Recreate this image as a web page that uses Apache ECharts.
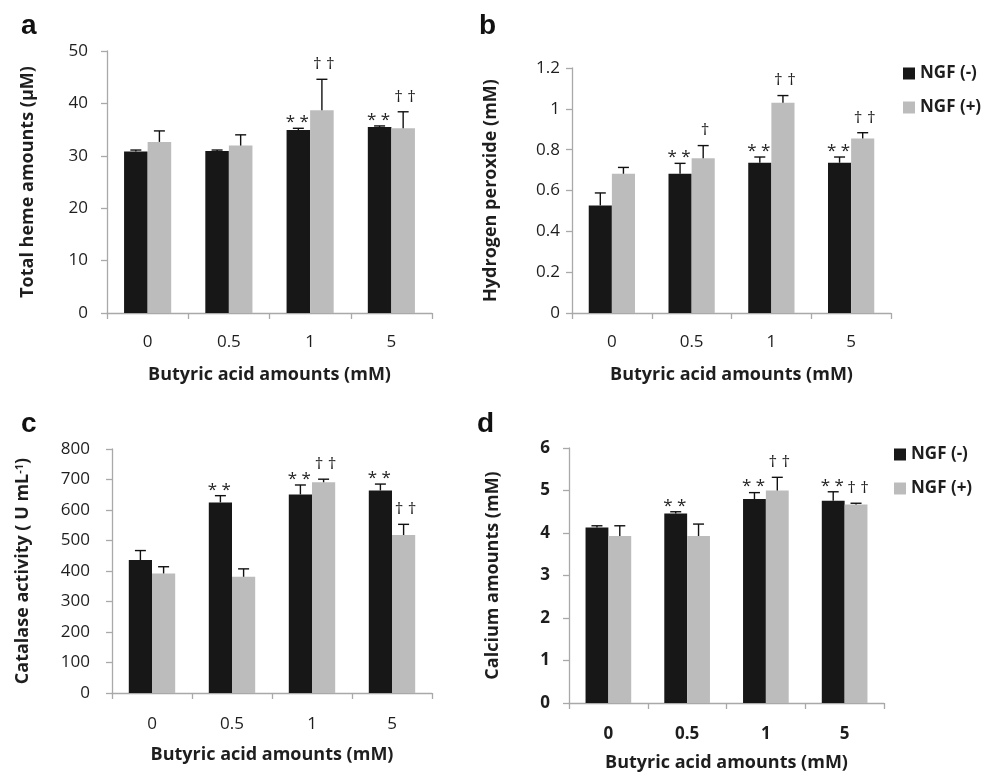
<!DOCTYPE html>
<html><head><meta charset="utf-8">
<script src="https://cdn.jsdelivr.net/npm/echarts@6/dist/echarts.min.js"></script>
<style>html,body{margin:0;padding:0;background:#fff}#c{width:987px;height:775px}</style>
</head><body><div id="c"></div>
<script>
const categories = ['0', '0.5', '1', '5'];
const seriesNames = ['NGF (-)', 'NGF (+)'];

// a: Total heme amounts (µM)
const hemeNeg = [30.8, 30.9, 34.9, 35.5];
const hemeNegErr = [0.3, 0.2, 0.35, 0.2];
const hemePos = [32.65, 31.95, 38.7, 35.25];
const hemePosErr = [2.1, 2.05, 5.9, 3.15];
const hemeNegSig = ['', '', '**', '**'];
const hemePosSig = ['', '', '††', '††'];

// b: Hydrogen peroxide (mM)
const h2o2Neg = [0.527, 0.682, 0.736, 0.736];
const h2o2NegErr = [0.061, 0.051, 0.028, 0.028];
const h2o2Pos = [0.682, 0.758, 1.03, 0.855];
const h2o2PosErr = [0.031, 0.062, 0.035, 0.028];
const h2o2NegSig = ['', '**', '**', '**'];
const h2o2PosSig = ['', '†', '††', '††'];

// c: Catalase activity (U mL-1)
const catNeg = [436, 625, 651, 664];
const catNegErr = [31, 22, 31, 21];
const catPos = [392, 381, 691, 518];
const catPosErr = [22, 26, 10, 35];
const catNegSig = ['', '**', '**', '**'];
const catPosSig = ['', '', '††', '††'];

// d: Calcium amounts (mM)
const caNeg = [4.13, 4.46, 4.80, 4.76];
const caNegErr = [0.04, 0.04, 0.15, 0.21];
const caPos = [3.93, 3.93, 5.0, 4.67];
const caPosErr = [0.24, 0.28, 0.31, 0.03];
const caNegSig = ['', '**', '**', '**'];
const caPosSig = ['', '', '††', '††'];

const BLACK = '#171717', GRAY = '#bcbcbc', AXIS = '#a9a9a9', TXT = '#1e1e1e';
const FONT = 'Open Sans';
const CAT_GAP = 0.42;

const panels = [
  {grid: {left: 107, top: 51, width: 325, height: 262}, yMax: 50, yInt: 10,
   yName: 'Total heme amounts (\u03bcM)', yGap: 70, yLabMargin: 19, xLabMargin: 21, xGap: 53, bold: false,
   neg: hemeNeg, negErr: hemeNegErr, pos: hemePos, posErr: hemePosErr, negSig: hemeNegSig, posSig: hemePosSig,
   letter: 'a', lx: 21, ly: 12},
  {grid: {left: 572, top: 68, width: 319, height: 245}, yMax: 1.2, yInt: 0.2,
   yName: 'Hydrogen peroxide (mM)', yGap: 72, yLabMargin: 12, xLabMargin: 21, xGap: 53, bold: false,
   neg: h2o2Neg, negErr: h2o2NegErr, pos: h2o2Pos, posErr: h2o2PosErr, negSig: h2o2NegSig, posSig: h2o2PosSig,
   letter: 'b', lx: 479, ly: 12},
  {grid: {left: 112, top: 449, width: 320, height: 244}, yMax: 800, yInt: 100,
   yName: '{t|Catalase activity ( U mL}{s|-1}{t|)}', yGap: 80, yLabMargin: 22, xLabMargin: 23, xGap: 53, bold: false,
   neg: catNeg, negErr: catNegErr, pos: catPos, posErr: catPosErr, negSig: catNegSig, posSig: catPosSig,
   letter: 'c', lx: 21, ly: 410},
  {grid: {left: 569, top: 448, width: 315, height: 255}, yMax: 6, yInt: 1,
   yName: 'Calcium amounts (mM)', yGap: 67, yLabMargin: 19, xLabMargin: 23, xGap: 51, bold: true,
   neg: caNeg, negErr: caNegErr, pos: caPos, posErr: caPosErr, negSig: caNegSig, posSig: caPosSig,
   letter: 'd', lx: 477, ly: 410}
];

const grid = [], xAxis = [], yAxis = [], series = [], graphic = [];

function errSeries(gi, vals, errs, sigs, side) {
  return {
    type: 'custom', xAxisIndex: gi, yAxisIndex: gi, z: 5, silent: true,
    data: categories.map((c, i) => [i, vals[i], vals[i] + errs[i]]),
    encode: {x: 0, y: [1, 2]},
    renderItem: function (params, api) {
      const base = api.coord([api.value(0), api.value(1)]);
      const top = api.coord([api.value(0), api.value(2)]);
      const band = api.size([1, 0])[0];
      const bw = band * (1 - CAT_GAP) / 2;
      const x = base[0] + side * bw / 2;
      const sig = sigs[params.dataIndex];
      const children = [
        {type: 'line', shape: {x1: x, y1: base[1], x2: x, y2: top[1]}, style: {stroke: '#111', lineWidth: 1.4}},
        {type: 'line', shape: {x1: x - 5.5, y1: top[1], x2: x + 5.5, y2: top[1]}, style: {stroke: '#111', lineWidth: 1.4}}
      ];
      if (sig) {
        const isStar = sig.charAt(0) === '*';
        children.push({type: 'text', style: {text: sig.split('').join(' '), x: x + (side > 0 ? 2 : -1),
          y: top[1] - (isStar ? 6 : 15),
          textAlign: 'center', textVerticalAlign: 'middle', fill: '#222',
          font: '17px "' + FONT + '"'}});
      }
      return {type: 'group', children: children};
    }
  };
}

panels.forEach((p, gi) => {
  grid.push(Object.assign({containLabel: false}, p.grid));
  xAxis.push({
    type: 'category', gridIndex: gi, data: categories, boundaryGap: true,
    axisLine: {show: true, lineStyle: {color: AXIS, width: 1.3}},
    axisTick: {show: true, length: 6, interval: 0, lineStyle: {color: AXIS, width: 1.3}},
    axisLabel: {color: TXT, fontSize: 17, fontFamily: FONT, margin: p.xLabMargin, fontWeight: p.bold ? 'bold' : 'normal'},
    name: 'Butyric acid amounts (mM)', nameLocation: 'middle', nameGap: p.xGap,
    nameTextStyle: {color: TXT, fontSize: 18, fontWeight: 'bold', fontFamily: FONT, verticalAlign: 'top'},
    splitLine: {show: false}
  });
  yAxis.push({
    type: 'value', gridIndex: gi, min: 0, max: p.yMax, interval: p.yInt,
    axisLine: {show: true, lineStyle: {color: AXIS, width: 1.3}},
    axisTick: {show: true, length: 6, lineStyle: {color: AXIS, width: 1.3}},
    axisLabel: {color: TXT, fontSize: 17, fontFamily: FONT, margin: p.yLabMargin, fontWeight: p.bold ? 'bold' : 'normal'},
    splitLine: {show: false},
    name: p.yName, nameLocation: 'middle', nameGap: p.yGap, nameRotate: 90,
    nameTextStyle: {color: TXT, fontSize: 18, fontWeight: 'bold', fontFamily: FONT,
      rich: {
        t: {fontSize: 18, fontWeight: 'bold', fontFamily: FONT, color: TXT},
        s: {fontSize: 11, fontWeight: 'bold', fontFamily: FONT, color: TXT, verticalAlign: 'top'}
      }}
  });
  series.push({
    name: seriesNames[0], type: 'bar', xAxisIndex: gi, yAxisIndex: gi, data: p.neg,
    itemStyle: {color: BLACK}, barGap: '0%', barCategoryGap: (CAT_GAP * 100) + '%', silent: true
  });
  series.push({
    name: seriesNames[1], type: 'bar', xAxisIndex: gi, yAxisIndex: gi, data: p.pos,
    itemStyle: {color: GRAY}, barGap: '0%', barCategoryGap: (CAT_GAP * 100) + '%', silent: true
  });
  series.push(errSeries(gi, p.neg, p.negErr, p.negSig, -1));
  series.push(errSeries(gi, p.pos, p.posErr, p.posSig, 1));
  graphic.push({type: 'text', left: p.lx, top: p.ly,
    style: {text: p.letter, font: 'bold 28px "Liberation Sans"', fill: '#111'}});
});

const legendCommon = {
  data: seriesNames, orient: 'vertical', itemWidth: 12, itemHeight: 12, itemGap: 17,
  icon: 'rect', selectedMode: false,
  textStyle: {color: TXT, fontSize: 17, fontWeight: 'bold', fontFamily: FONT, padding: [0, 0, 0, 0]}
};

const chart = echarts.init(document.getElementById('c'), null, {renderer: 'canvas'});
chart.setOption({
  animation: false,
  backgroundColor: '#fff',
  grid: grid, xAxis: xAxis, yAxis: yAxis, series: series, graphic: graphic,
  legend: [
    Object.assign({left: 898, top: 60}, legendCommon),
    Object.assign({left: 889, top: 441}, legendCommon)
  ]
});
</script></body></html>
